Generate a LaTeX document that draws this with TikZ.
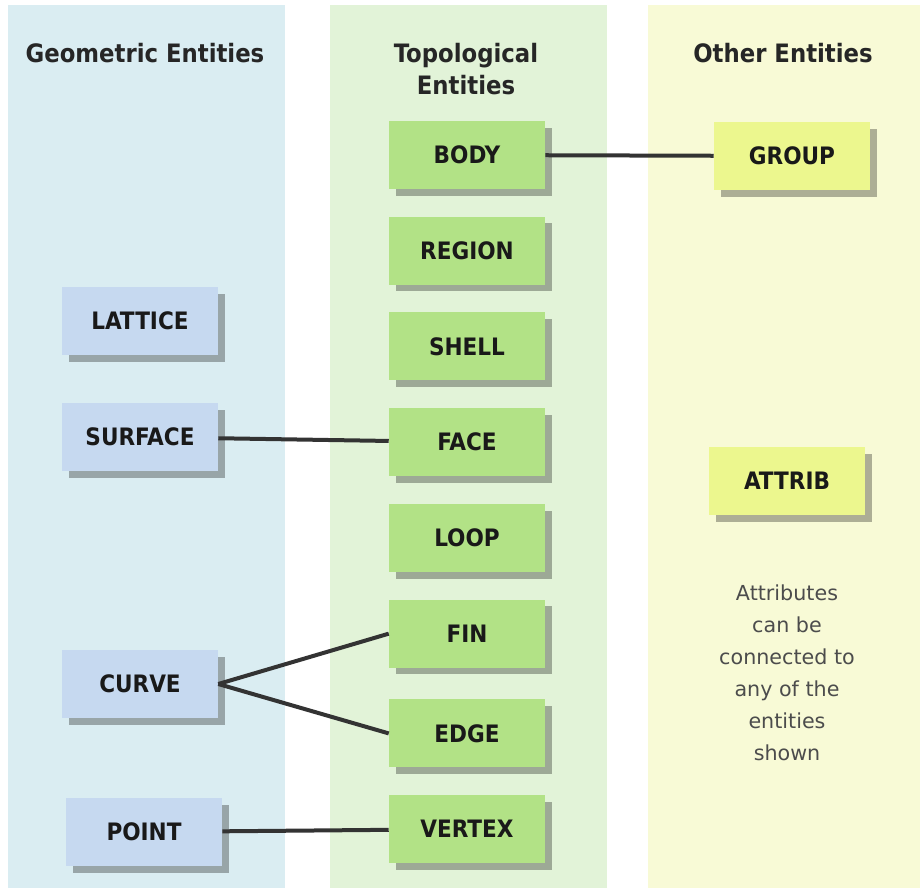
\documentclass[tikz,border=0pt]{standalone}
\usepackage{fontspec}
\setmainfont{DejaVu Sans}
\newfontfamily\boxfont{DejaVu Sans Condensed}
\usetikzlibrary{positioning, shadows}

\definecolor{geomback}{RGB}{218,237,242}
\definecolor{topoback}{RGB}{226,243,216}
\definecolor{otherback}{RGB}{248,250,214}
\definecolor{geombox}{RGB}{198,217,240}
\definecolor{topobox}{RGB}{178,226,134}
\definecolor{otherbox}{RGB}{236,247,142}

\begin{document}
\begin{tikzpicture}[
  x=0.75pt, y=-0.75pt,
  node distance=20.4pt,
  entity/.style={rectangle, minimum width=117pt, minimum height=51pt, inner sep=0pt, text=black!90, font=\boxfont\bfseries\fontsize{18}{20}\selectfont, drop shadow={shadow xshift=5pt, shadow yshift=-5pt, fill=black, opacity=0.3}},
  geom/.style={entity, fill=geombox},
  topo/.style={entity, fill=topobox},
  other/.style={entity, fill=otherbox},
  heading/.style={align=center, text=black!85, font=\boxfont\bfseries\fontsize{19}{24}\selectfont},
  link/.style={line width=3pt, draw=black!80}
]
\useasboundingbox (0,0) rectangle (920,888);

% column backgrounds
\fill[geomback] (8,5) rectangle (285,888);
\fill[topoback] (330,5) rectangle (607,888);
\fill[otherback] (648,5) rectangle (920,888);

\node (geomtitle) [heading] at (145,53) {Geometric Entities};
\node (topotitle) [heading] at (466,69) {Topological\\Entities};
\node (othertitle) [heading] at (783,53) {Other Entities};

% topological entities
\node (body) [topo] at (467,155) {BODY};
\node (region) [topo, below=of body] {REGION};
\node (shell) [topo, below=of region] {SHELL};
\node (face) [topo, below=of shell] {FACE};
\node (loop) [topo, below=of face] {LOOP};
\node (fin) [topo, below=of loop] {FIN};
\node (edge) [topo, below=23.4pt of fin] {EDGE};
\node (vertex) [topo, below=of edge] {VERTEX};

% geometric entities
\node (lattice) [geom] at (140,321) {LATTICE};
\node (surface) [geom] at (140,437) {SURFACE};
\node (curve) [geom] at (140,684) {CURVE};
\node (point) [geom] at (144,832) {POINT};

% other entities
\node (group) [other] at (792,156) {GROUP};
\node (attrib) [other] at (787,481) {ATTRIB};
\node (attribnote) [align=center, text=black!70, font=\fontsize{15.5}{24}\selectfont] at (787,673) {Attributes\\can be\\connected to\\any of the\\entities\\shown};

\draw [link] (body) -- (group);
\draw [link] (surface) -- (face);
\draw [link] (curve.east) -- (fin.west);
\draw [link] (curve.east) -- (edge.west);
\draw [link] (point) -- (vertex);

\end{tikzpicture}
\end{document}
